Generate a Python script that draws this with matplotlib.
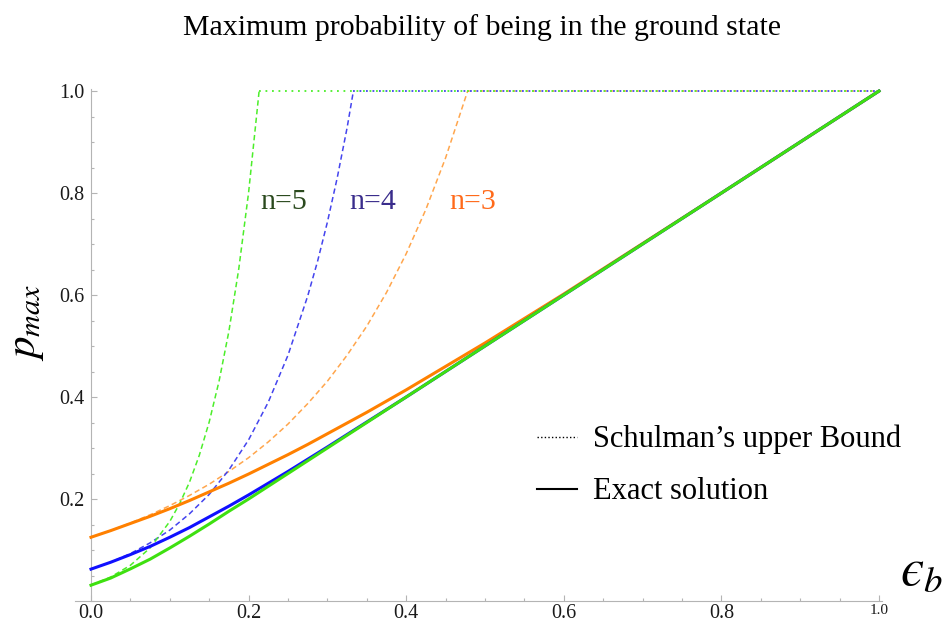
import matplotlib.pyplot as plt
from matplotlib.lines import Line2D
from matplotlib.ticker import MultipleLocator

plt.rcParams['font.family'] = ['Liberation Serif', 'DejaVu Serif']
plt.rcParams['mathtext.fontset'] = 'stix'

# exact solution
eps = [0, 0.025, 0.05, 0.075, 0.1, 0.125, 0.15, 0.175, 0.2, 0.225, 0.25, 0.275,
       0.3, 0.35, 0.4, 0.45, 0.5, 0.6, 0.7, 0.8, 0.9, 1.0]
exact_n3 = [0.125, 0.138, 0.152, 0.166, 0.181, 0.197, 0.214, 0.231, 0.249, 0.268, 0.287, 0.307,
            0.328, 0.370, 0.414, 0.460, 0.506, 0.602, 0.701, 0.800, 0.900, 1.0]
exact_n4 = [0.0625, 0.076, 0.091, 0.107, 0.125, 0.144, 0.165, 0.186, 0.208, 0.231, 0.254, 0.278,
            0.302, 0.351, 0.400, 0.450, 0.500, 0.600, 0.700, 0.800, 0.900, 1.0]
exact_n5 = [0.031, 0.045, 0.063, 0.082, 0.104, 0.127, 0.151, 0.176, 0.200, 0.225, 0.250, 0.275,
            0.300, 0.350, 0.400, 0.450, 0.500, 0.600, 0.700, 0.800, 0.900, 1.0]

# Schulman's upper bound, rising part
bound_x_n3 = [0, 0.025, 0.05, 0.075, 0.1, 0.125, 0.15, 0.175, 0.2, 0.225, 0.25, 0.275,
              0.3, 0.325, 0.35, 0.375, 0.4, 0.425, 0.45, 0.478]
bound_n3 = [0.125, 0.138, 0.153, 0.169, 0.187, 0.207, 0.229, 0.254, 0.281, 0.312, 0.347, 0.387,
            0.431, 0.482, 0.539, 0.605, 0.681, 0.768, 0.869, 1.0]
bound_x_n4 = [0, 0.025, 0.05, 0.075, 0.1, 0.125, 0.15, 0.175, 0.2, 0.225, 0.25, 0.275,
              0.2875, 0.3, 0.3125, 0.325, 0.333]
bound_n4 = [0.0625, 0.076, 0.093, 0.114, 0.139, 0.171, 0.209, 0.257, 0.316, 0.390, 0.482, 0.598,
            0.666, 0.743, 0.830, 0.928, 1.0]
bound_x_n5 = [0, 0.025, 0.05, 0.075, 0.1, 0.1125, 0.125, 0.1375, 0.15, 0.1625, 0.175, 0.1875,
              0.2, 0.2125, 0.2133]
bound_n5 = [0.031, 0.047, 0.070, 0.104, 0.156, 0.191, 0.233, 0.286, 0.351, 0.431, 0.529, 0.651,
            0.801, 0.987, 1.0]
eps_end = 1.0
p_cap = 1.0

x_ticks = [0.0, 0.2, 0.4, 0.6, 0.8, 1.0]
y_ticks = [0.2, 0.4, 0.6, 0.8, 1.0]

solid_colors = {'n3': '#ff8000', 'n4': '#1010ff', 'n5': '#3ee010'}
dash_colors = {'n3': '#ffa64d', 'n4': '#4444ee', 'n5': '#4cee2a'}
label_colors = {'n3': '#ff6a1a', 'n4': '#3a2d8c', 'n5': '#2b4a1e'}

fig = plt.figure(figsize=(9.43, 6.23), dpi=100)
ax = fig.add_axes([75 / 943, 22 / 623, 807 / 943, 512 / 623])

# dashed bounds (underneath the solid curves)
for key, bx, by in [('n3', bound_x_n3, bound_n3), ('n4', bound_x_n4, bound_n4),
                    ('n5', bound_x_n5, bound_n5)]:
    ax.plot(bx, by, color=dash_colors[key], lw=1.1, dashes=(3.5, 2.2), zorder=2)
    ax.plot([bx[-1], eps_end], [p_cap, p_cap], color=dash_colors[key], lw=1.3,
            dashes=(1, 2.6), zorder=2)

# exact solutions
ax.plot(eps, exact_n3, color=solid_colors['n3'], lw=2.2, zorder=3)
ax.plot(eps, exact_n4, color=solid_colors['n4'], lw=2.2, zorder=4)
ax.plot(eps, exact_n5, color=solid_colors['n5'], lw=2.2, zorder=5)

ax.text(0.244, 0.782, 'n=5', color=label_colors['n5'], fontsize=21.5, ha='center', va='center')
ax.text(0.357, 0.782, 'n=4', color=label_colors['n4'], fontsize=21.5, ha='center', va='center')
ax.text(0.484, 0.782, 'n=3', color=label_colors['n3'], fontsize=21.5, ha='center', va='center')

ax.set_xlim(-0.0203, 1.0038)
ax.set_ylim(0, 1.004)
ax.patch.set_visible(False)
for s in ['top', 'right']:
    ax.spines[s].set_visible(False)
ax.spines['left'].set_position(('data', 0))
ax.spines['bottom'].set_position(('data', 0))
for s in ['left', 'bottom']:
    ax.spines[s].set_color('#b4b4b4')
    ax.spines[s].set_linewidth(0.8)

ax.set_xticks(x_ticks, ['%.1f' % v for v in x_ticks])
ax.set_yticks(y_ticks, ['%.1f' % v for v in y_ticks])
ax.xaxis.set_minor_locator(MultipleLocator(0.05))
ax.yaxis.set_minor_locator(MultipleLocator(0.05))
ax.tick_params(which='both', direction='in', color='#b4b4b4', width=0.8,
               labelsize=14.5, labelcolor='#1a1a1a')
ax.tick_params(axis='x', which='major', pad=2)
ax.tick_params(axis='y', which='major', pad=5)
ax.tick_params(which='major', length=4)
ax.tick_params(which='minor', length=2.5)
ax.get_xticklabels()[-1].set_fontsize(11)

handles = [Line2D([], [], color='black', lw=1.0, dashes=(1, 1.6)),
           Line2D([], [], color='black', lw=1.5)]
ax.legend(handles, ['Schulman\u2019s upper Bound', 'Exact solution'], frameon=False,
          fontsize=22, loc='center left', bbox_to_anchor=(537 / 943, 1 - 465.5 / 623),
          bbox_transform=fig.transFigure, borderpad=0, borderaxespad=0,
          handlelength=1.3, handletextpad=0.52, labelspacing=0.75)

fig.text(482 / 943, 1 - 28 / 623, 'Maximum probability of being in the ground state',
         fontsize=21.5, ha='center', va='center')
fig.text(27 / 943, 1 - 322 / 623, r'$p_{max}$', rotation=90, fontsize=31,
         ha='center', va='center')
fig.text(900 / 943, 1 - 572 / 623, '$\u03f5_b$', fontsize=38, ha='left', va='center')

fig.savefig('out.png', dpi=100)
